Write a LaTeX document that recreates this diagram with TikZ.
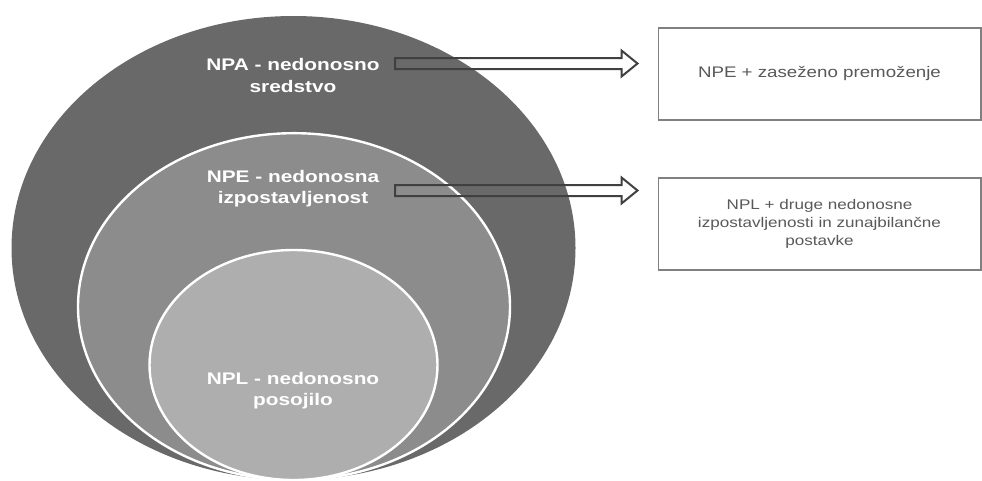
\documentclass[tikz,border=0pt]{standalone}
\usepackage{xcolor}
\usepackage{fontspec}
\usepackage{tikz}
\usetikzlibrary{shapes.geometric,calc}
\newfontfamily\ringfont[FakeStretch=1.24]{Liberation Sans}
\newfontfamily\boxfont[FakeStretch=1.22]{Liberation Sans}
\definecolor{RingDark}{HTML}{696969}
\definecolor{RingMid}{HTML}{8C8C8C}
\definecolor{RingLight}{HTML}{AEAEAE}
\definecolor{BoxGray}{HTML}{808080}
\definecolor{TextGray}{HTML}{595959}
\definecolor{ArrowGray}{HTML}{404040}
\tikzset{
  ring/.style={ellipse, inner sep=0pt, draw=white, line width=1.8pt},
  ringlabel/.style={text=white, align=center, inner sep=0pt,
    font=\ringfont\bfseries\fontsize{12.6}{15.8}\selectfont},
  infobox/.style={draw=BoxGray, line width=1pt, fill=white, align=center,
    text=TextGray, minimum width=242pt, minimum height=69pt},
  hollowarrow/.style={draw=ArrowGray, line width=1.5pt, line join=miter}
}
\begin{document}
\begin{tikzpicture}[x=0.75pt, y=-0.75pt]
  \useasboundingbox (0,0) rectangle (982,480);
  % nested rings
  \node[ring, draw=none, fill=RingDark, minimum width=423pt, minimum height=348pt]
    (npa) at (293.5,248) {};
  \node[ring, fill=RingMid, minimum width=324pt, minimum height=260pt]
    (npe) at (294,306.5) {};
  \node[ring, fill=RingLight, minimum width=216pt, minimum height=172.5pt]
    (npl) at (293.5,365) {};
  \node[ringlabel] (npaText) at (293,75.5) {NPA - nedonosno\\sredstvo};
  \node[ringlabel] (npeText) at (293,188.5) {NPE - nedonosna\\izpostavljenost};
  \node[ringlabel] (nplText) at (293,391) {NPL - nedonosno\\posojilo};
  % boxes on the right
  \node[infobox, font=\boxfont\fontsize{11.5}{14}\selectfont] (npaBox) at (819.5,74)
    {NPE + zaseženo premoženje};
  \node[infobox, font=\boxfont\fontsize{10.5}{13.5}\selectfont] (npeBox) at (819.5,224)
    {NPL + druge nedonosne\\izpostavljenosti in zunajbilančne\\postavke};
  % outline arrows
  \coordinate (npaTail) at (395,63.5);
  \coordinate (npaTip) at ($(npaBox.west)+(-20,-10.5)$);
  \coordinate (npeTail) at (395,190.5);
  \coordinate (npeTip) at ($(npeBox.west)+(-20,-33.5)$);
  \foreach \t/\h in {npaTail/npaTip, npeTail/npeTip}
    \draw[hollowarrow] ($(\t)+(0,-5.5)$) -- ($(\h)+(-16,-5.5)$) -- ($(\h)+(-16,-13)$)
      -- (\h) -- ($(\h)+(-16,13)$) -- ($(\h)+(-16,5.5)$) -- ($(\t)+(0,5.5)$) -- cycle;
\end{tikzpicture}
\end{document}
